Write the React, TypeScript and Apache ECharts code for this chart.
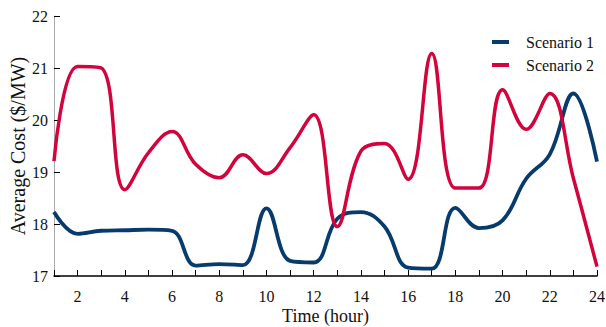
import React, { useEffect, useRef } from "react";
import * as echarts from "echarts";

const hours = [1, 2, 3, 4, 5, 6, 7, 8, 9, 10, 11, 12, 13, 14, 15, 16, 17, 18, 19, 20, 21, 22, 23, 24];
const scenario1 = [18.23, 17.81, 17.87, 17.88, 17.89, 17.87, 17.2, 17.23, 17.21, 18.3, 17.29, 17.26, 18.1, 18.23, 17.95, 17.16, 17.14, 18.31, 17.92, 18.07, 18.87, 19.34, 20.51, 19.2];
const scenario2 = [19.21, 21.03, 21.0, 18.66, 19.37, 19.78, 19.15, 18.89, 19.33, 18.97, 19.47, 20.1, 17.95, 19.4, 19.55, 18.86, 21.28, 18.69, 18.69, 20.58, 19.82, 20.51, 18.88, 17.18];
const seriesNames = ["Scenario 1", "Scenario 2"];
const colors = ["#073b6e", "#d3043c"];

const FONT = "'Liberation Serif', 'Times New Roman', Times, serif";

export default function App() {
  const ref = useRef<HTMLDivElement>(null);
  useEffect(() => {
    if (!ref.current) return;
    const chart = echarts.init(ref.current, null, { renderer: "svg" });
    const mk = (vals: number[]) => hours.map((h, i) => [h, vals[i]]);
    chart.setOption({
      animation: false,
      backgroundColor: "#ffffff",
      textStyle: { fontFamily: FONT },
      grid: { left: 54, right: 9, top: 16, bottom: 51, containLabel: false, outerBoundsMode: "none" },
      legend: {
        orient: "vertical",
        left: 487,
        top: 28,
        itemWidth: 17,
        itemHeight: 4,
        itemGap: 5,
        icon: "rect",
        data: seriesNames,
        textStyle: { fontFamily: FONT, fontSize: 16, color: "#111", lineHeight: 18, padding: [0, 0, 0, 12] },
      },
      xAxis: {
        type: "value",
        min: 1,
        max: 24,
        interval: 1,
        name: "Time (hour)",
        nameLocation: "middle",
        nameGap: 30,
        nameMoveOverlap: false,
        nameTextStyle: { fontFamily: FONT, fontSize: 18, color: "#111", lineHeight: 20 },
        axisLine: { show: true, lineStyle: { color: "#000", width: 1.5 } },
        axisTick: { show: true, inside: true, length: 6, lineStyle: { color: "#000" } },
        axisLabel: {
          fontFamily: FONT,
          fontSize: 16,
          color: "#111",
          margin: 12,
          formatter: (v: number) => (v % 2 === 0 ? String(v) : ""),
        },
        splitLine: { show: false },
      },
      yAxis: {
        type: "value",
        min: 17,
        max: 22,
        interval: 1,
        name: "Average Cost ($/MW)",
        nameLocation: "middle",
        nameGap: 26,
        nameMoveOverlap: false,
        nameTextStyle: { fontFamily: FONT, fontSize: 20, color: "#111", lineHeight: 20 },
        axisLine: { show: true, lineStyle: { color: "#aaaaaa", width: 1 } },
        axisTick: { show: true, inside: true, length: 6, lineStyle: { color: "#000" } },
        axisLabel: { fontFamily: FONT, fontSize: 16, color: "#111", margin: 6 },
        splitLine: { show: false },
      },
      series: [
        {
          name: seriesNames[0],
          type: "line",
          data: mk(scenario1),
          smooth: 0.4,
          showSymbol: false,
          symbol: "none",
          lineStyle: { color: colors[0], width: 3.8 },
          itemStyle: { color: colors[0] },
        },
        {
          name: seriesNames[1],
          type: "line",
          data: mk(scenario2),
          smooth: 0.4,
          showSymbol: false,
          symbol: "none",
          lineStyle: { color: colors[1], width: 3.5 },
          itemStyle: { color: colors[1] },
        },
      ],
    });
    return () => chart.dispose();
  }, []);
  return (
    <div
      ref={ref}
      style={{ position: "absolute", left: 0, top: 0, width: 606, height: 327 }}
    />
  );
}
